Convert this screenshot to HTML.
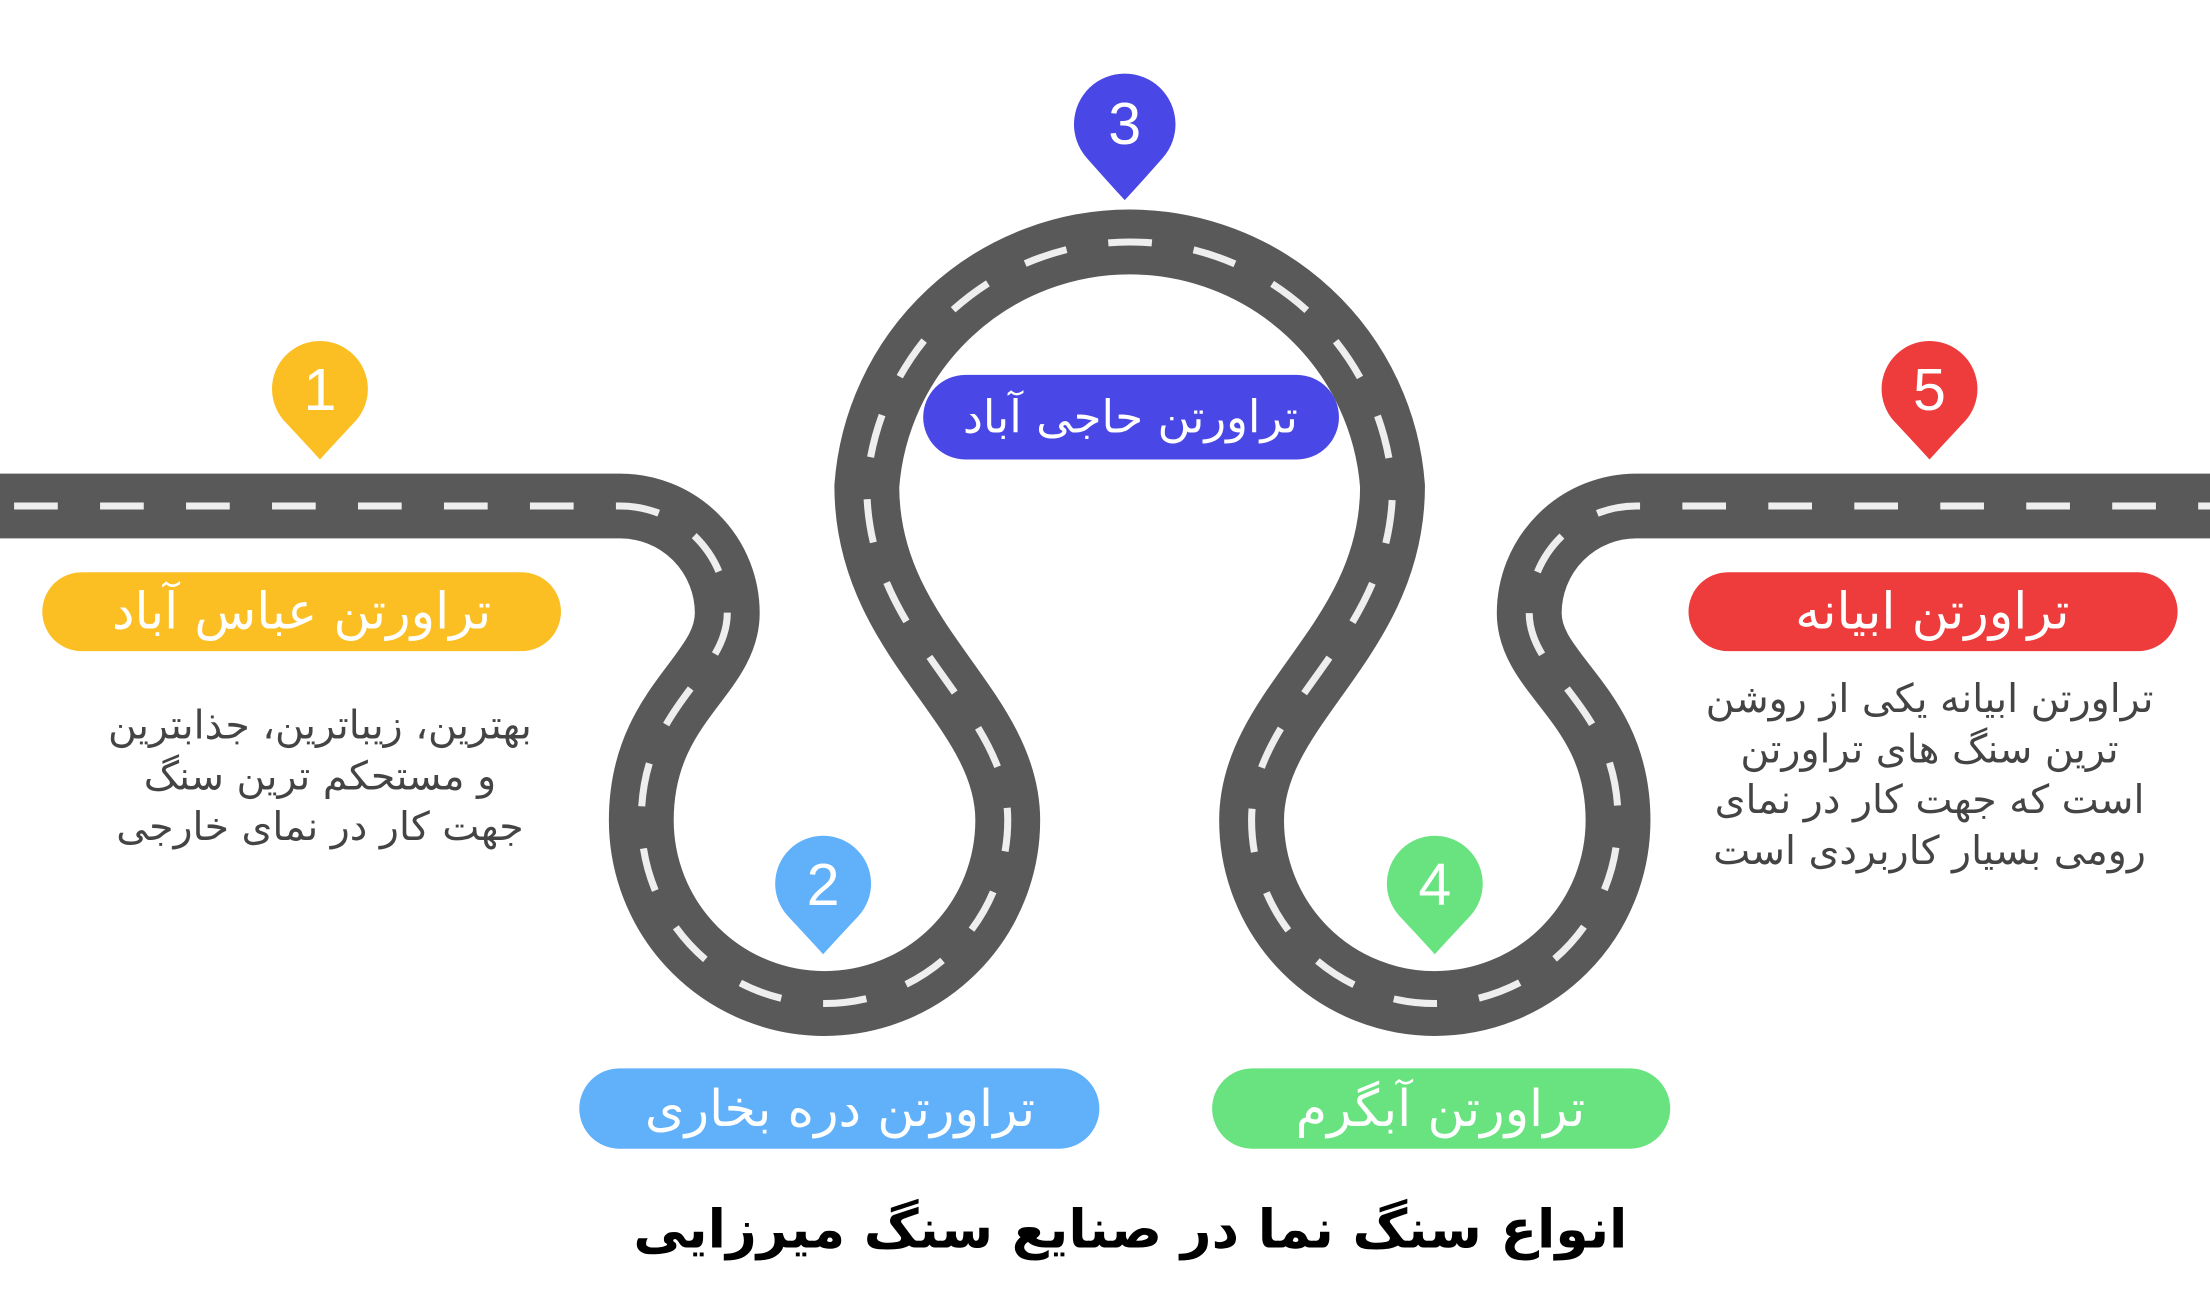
<!DOCTYPE html>
<html><head><meta charset="utf-8"><style>
html,body{margin:0;padding:0;background:#fff;}
svg{display:block;}
.fa{font-family:"DejaVu Sans","Liberation Sans",sans-serif;}
.num{font-family:"Liberation Sans",sans-serif;fill:#fff;font-size:42px;text-anchor:middle;}
</style></head><body>
<svg width="2210" height="1296" viewBox="0 0 1568 919.5" xmlns="http://www.w3.org/2000/svg">
<rect width="1568" height="920" fill="#fff"/>
<g fill="none">
<path d="M -10 359 H 440 A 76 76 0 0 1 516 435 C 516 480 455 500 455 582 A 130 130 0 0 0 715 582 C 715 500 615 455 615 345 A 187 187 0 0 1 988 345 C 988 455 888 500 888 582 A 130 130 0 0 0 1148 582 C 1148 500 1085 480 1085 435 A 76 76 0 0 1 1161 359 H 1580" stroke="#595959" stroke-width="46"/>
<path d="M -10 359 H 440 A 76 76 0 0 1 516 435 C 516 480 455 500 455 582 A 130 130 0 0 0 715 582 C 715 500 615 455 615 345 A 187 187 0 0 1 988 345 C 988 455 888 500 888 582 A 130 130 0 0 0 1148 582 C 1148 500 1085 480 1085 435 A 76 76 0 0 1 1161 359 H 1580" stroke="#eeeeee" stroke-width="5" stroke-dasharray="31 30" stroke-dashoffset="-20"/>
</g>
<g>
<path d="M227 326 Q216 314 202 299 A34 34 0 1 1 252 299 Q238 314 227 326 Z" fill="#FBBF24"/>
<text x="227" y="291" class="num">1</text>
<path d="M798 142 Q786 129 771 112 A36 36 0 1 1 825 112 Q810 129 798 142 Z" fill="#4947E5"/>
<text x="798" y="102" class="num">3</text>
<path d="M584 677 Q573 665 559 650 A34 34 0 1 1 609 650 Q595 665 584 677 Z" fill="#60B0FA"/>
<text x="584" y="642" class="num">2</text>
<path d="M1018 677 Q1007 665 993 650 A34 34 0 1 1 1043 650 Q1029 665 1018 677 Z" fill="#68E37F"/>
<text x="1018" y="642" class="num">4</text>
<path d="M1369 326 Q1358 314 1344 299 A34 34 0 1 1 1394 299 Q1380 314 1369 326 Z" fill="#EE3B3B"/>
<text x="1369" y="291" class="num">5</text>
</g>
<rect x="30" y="406" width="368" height="56" rx="28" fill="#FBBF24"/>
<text x="214" y="446" class="fa" font-size="36" fill="#fff" text-anchor="middle">تراورتن عباس آباد</text>
<rect x="655" y="266" width="295" height="60" rx="30" fill="#4947E5"/>
<text x="802" y="307" class="fa" font-size="32" fill="#fff" text-anchor="middle">تراورتن حاجی آباد</text>
<rect x="411" y="758" width="369" height="57" rx="28.5" fill="#60B0FA"/>
<text x="596" y="799" class="fa" font-size="36" fill="#fff" text-anchor="middle">تراورتن دره بخاری</text>
<rect x="860" y="758" width="325" height="57" rx="28.5" fill="#68E37F"/>
<text x="1022" y="799" class="fa" font-size="36" fill="#fff" text-anchor="middle">تراورتن آبگرم</text>
<rect x="1198" y="406" width="347" height="56" rx="28" fill="#EE3B3B"/>
<text x="1371" y="446" class="fa" font-size="36" fill="#fff" text-anchor="middle">تراورتن ابیانه</text>
<g class="fa" font-size="28" fill="#444" text-anchor="middle">
<text x="227" y="524">بهترین، زیباترین، جذابترین</text>
<text x="227" y="560">و مستحکم ترین سنگ</text>
<text x="227" y="596">جهت کار در نمای خارجی</text>
<text x="1369" y="505">تراورتن ابیانه یکی از روشن</text>
<text x="1369" y="541">ترین سنگ های تراورتن</text>
<text x="1369" y="577">است که جهت کار در نمای</text>
<text x="1369" y="613">رومی بسیار کاربردی است</text>
</g>
<text x="802" y="885" class="fa" font-size="38" font-weight="bold" fill="#000" text-anchor="middle">انواع سنگ نما در صنایع سنگ میرزایی</text>
</svg>
</body></html>
